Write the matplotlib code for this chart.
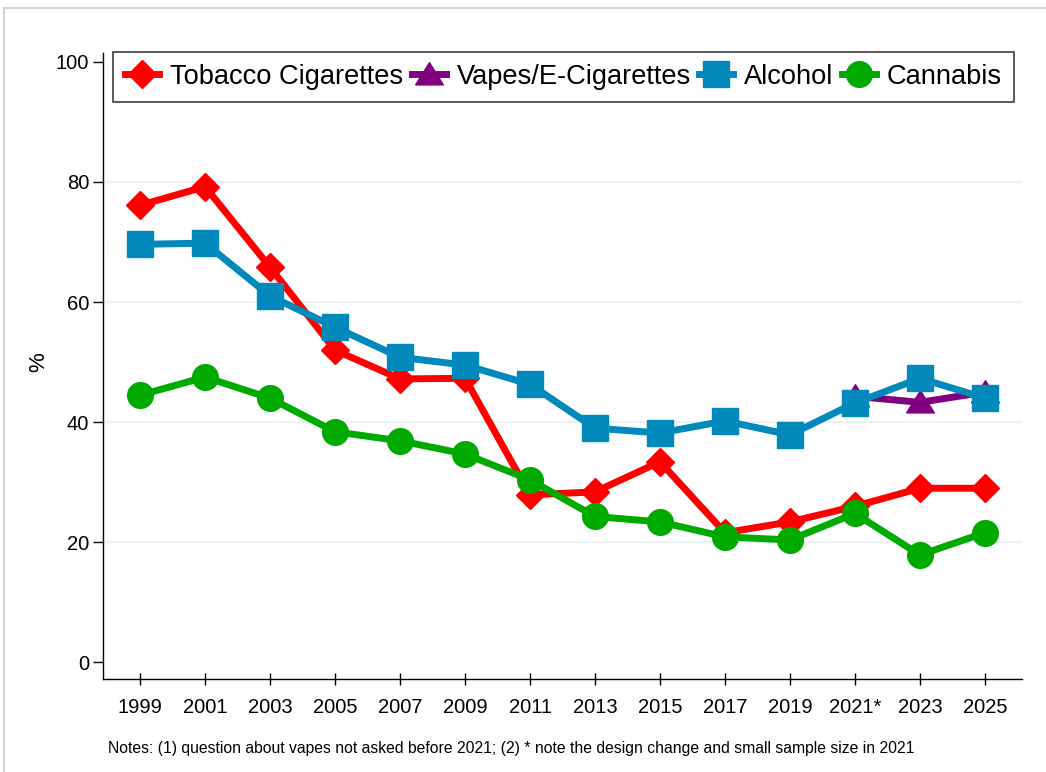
import matplotlib.pyplot as plt
from matplotlib.patches import Rectangle

plt.rcParams['font.family'] = ['Liberation Sans', 'DejaVu Sans']

# survey waves (2021 flagged for design change)
years = ["1999", "2001", "2003", "2005", "2007", "2009", "2011",
         "2013", "2015", "2017", "2019", "2021*", "2023", "2025"]

tobacco = [76.1, 79.2, 65.8, 52.0, 47.2, 47.3, 27.9, 28.4, 33.4, 21.6, 23.4, 26.0, 29.0, 29.0]
vapes = [None] * 11 + [44.3, 43.3, 45.0]
alcohol = [69.6, 69.8, 61.0, 55.8, 50.8, 49.5, 46.3, 39.0, 38.2, 40.2, 37.9, 43.2, 47.3, 44.0]
cannabis = [44.5, 47.5, 44.0, 38.4, 36.9, 34.7, 30.4, 24.3, 23.4, 20.9, 20.4, 24.8, 17.9, 21.6]

x = list(range(len(years)))
vape_x = [i for i, v in enumerate(vapes) if v is not None]
vape_y = [v for v in vapes if v is not None]

# flatter triangle, like Stata's
tri = [(-1, -0.75), (1, -0.75), (0, 0.85), (-1, -0.75)]

fig = plt.figure(figsize=(10.46, 7.72), dpi=100)
ax = fig.add_axes([103 / 1046, 1 - 679 / 772, 919 / 1046, 626 / 772])

# light grey outer frame
fig.patches.append(Rectangle((4 / 1046, -0.05), 1.1, 1 - 8 / 772 + 0.05,
                             transform=fig.transFigure, fill=False,
                             edgecolor='#d4d4d4', linewidth=1.5))

for g in [20, 40, 60, 80]:
    ax.axhline(g, color='#eaf2f3', linewidth=1.5, zorder=0)

lw = 5
ax.plot(x, tobacco, color='#ff0000', lw=lw, marker='D', ms=14.5,
        label='Tobacco Cigarettes', zorder=2)
ax.plot(vape_x, vape_y, color='#800080', lw=lw, marker=tri, ms=20,
        label='Vapes/E-Cigarettes', zorder=3)
ax.plot(x, alcohol, color='#0089ba', lw=lw, marker='s', ms=18.5,
        label='Alcohol', zorder=4)
ax.plot(x, cannabis, color='#00aa00', lw=lw, marker='o', ms=18.5,
        label='Cannabis', zorder=5)

ax.set_xlim(-0.57, 13.57)
ax.set_ylim(-2.75, 101.45)
ax.set_xticks(x)
ax.set_xticklabels(years)
ax.set_yticks([0, 20, 40, 60, 80, 100])

for s in ['top', 'right']:
    ax.spines[s].set_visible(False)
for s in ['left', 'bottom']:
    ax.spines[s].set_linewidth(1.0)
    ax.spines[s].set_color('black')

ax.tick_params(axis='x', direction='inout', length=8, width=1, labelsize=14.5, pad=10)
ax.tick_params(axis='y', direction='out', length=7, width=1, labelsize=14.5, pad=3)
ax.set_ylabel('%', fontsize=16)
ax.yaxis.set_label_coords(-0.058, 0.506)

leg = ax.legend(loc='upper left', bbox_to_anchor=(0.0106, 0.92, 0.981, 0.082),
                mode='expand', ncol=4,
                fontsize=19.6, handlelength=1.25, handletextpad=0.4,
                columnspacing=0.5, borderpad=0.45, borderaxespad=0,
                fancybox=False, framealpha=1)
leg.get_frame().set_edgecolor('#404040')
leg.get_frame().set_linewidth(1.2)

fig.text(108 / 1046, 1 - 748 / 772,
         'Notes: (1) question about vapes not asked before 2021; (2) * note the design change and small sample size in 2021',
         fontsize=11.35, va='center', ha='left')

fig.savefig('out.png', dpi=100)
